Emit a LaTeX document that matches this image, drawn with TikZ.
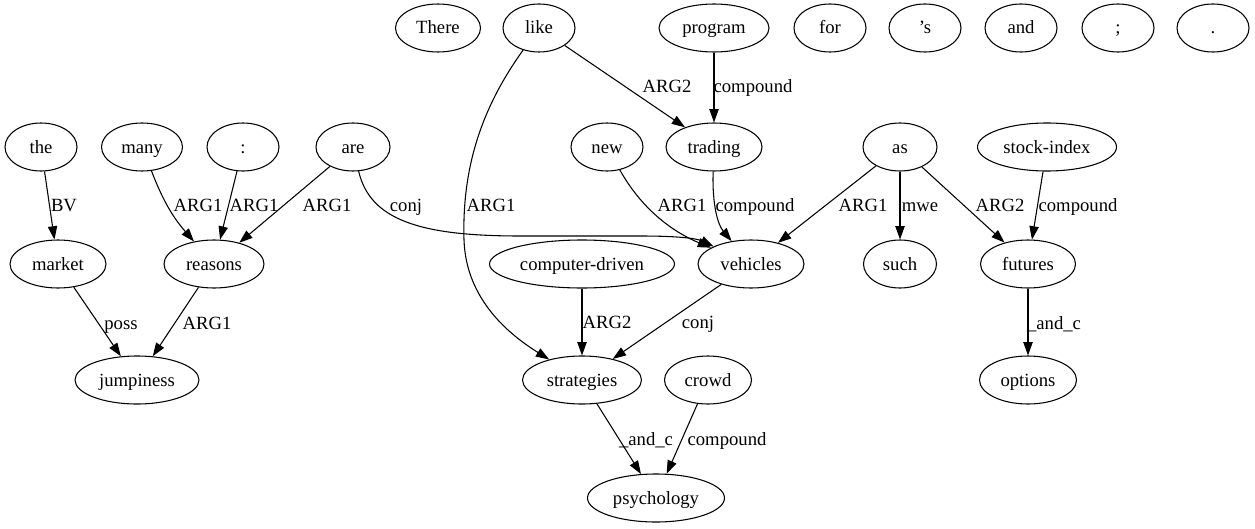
\documentclass[tikz,border=0pt]{standalone}
\usepackage{fontspec}
\setmainfont{Liberation Serif}
\usetikzlibrary{arrows.meta,shapes.geometric}

\begin{document}
\begin{tikzpicture}[x=0.75pt,y=-0.75pt,
  font=\fontsize{14}{16}\selectfont,
  tok/.style={ellipse,draw,line width=0.8pt,minimum width=#1*0.75pt,minimum height=36pt,inner xsep=1pt,inner ysep=0pt,text height=11pt,text depth=2pt},
  tok/.default=72,
  lbl/.style={inner sep=0pt,text height=11pt,text depth=2pt},
  edge/.style={-{Triangle[length=10pt,width=7pt]},line width=0.8pt}]
\useasboundingbox (0,0) rectangle (1255,528);
% top row
\node[tok=85](there) at (438,28){There};
\node[tok](like) at (539,28){like};
\node[tok=110](program) at (714,28){program};
\node[tok](for) at (830,28){for};
\node[tok](apos) at (925,28){’s};
\node[tok](andw) at (1021,28){and};
\node[tok](semi) at (1118,28){;};
\node[tok](dot) at (1213,28){.};
% second row
\node[tok](the) at (41,147){the};
\node[tok=81](many) at (142,147){many};
\node[tok](colon) at (243,147){:};
\node[tok=74](are) at (353,147){are};
\node[tok](new) at (607,147){new};
\node[tok=96](trading) at (714,147){trading};
\node[tok=74](as) at (900,147){as};
\node[tok=139](stock) at (1047,147){stock-index};
% third row
\node[tok=96](market) at (58,264){market};
\node[tok=100](reasons) at (214,264){reasons};
\node[tok=185](cdriven) at (582,264){computer-driven};
\node[tok=106](vehicles) at (751,264){vehicles};
\node[tok=73](such) at (900,264){such};
\node[tok=95](futures) at (1028,264){futures};
% fourth and fifth row
\node[tok=124](jump) at (137,380){jumpiness};
\node[tok=119](strat) at (582,380){strategies};
\node[tok=87](crowd) at (708,380){crowd};
\node[tok=97](options) at (1028,380){options};
\node[tok=137](psych) at (656,498){psychology};
\foreach \a/\b/\t/\x/\y in {the/market/BV/64/205,colon/reasons/ARG1/254/205,are/reasons/ARG1/327/205,
  market/jump/poss/121/323,reasons/jump/ARG1/207/323,like/trading/ARG2/667/87,program/trading/compound/753/87,
  as/vehicles/ARG1/863/205,as/such/mwe/920/205,as/futures/ARG2/1000/205,stock/futures/compound/1078/205,
  cdriven/strat/ARG2/607/322,vehicles/strat/conj/698/322,futures/options/\_and\_c/1054/323,
  strat/psych/\_and\_c/646/439,crowd/psych/compound/727/439}
  \draw[edge](\a)--(\b) node[lbl] at (\x,\y){\t};
\draw[edge](many) to[bend right=10] (reasons) node[lbl] at (198,205){ARG1};
\draw[edge](are) .. controls (370,220) and (420,236) .. (520,236) -- (640,236)
  .. controls (690,236) and (700,240) .. (vehicles) node[lbl] at (406,205){conj};
\draw[edge](like) .. controls (480,110) and (462,170) .. (464,240)
  .. controls (466,300) and (510,335) .. (strat) node[lbl] at (491,205){ARG1};
\draw[edge](new) .. controls (645,215) and (680,235) .. (vehicles) node[lbl] at (682,205){ARG1};
\draw[edge](trading) .. controls (712,205) and (718,225) .. (vehicles) node[lbl] at (755,205){compound};
\end{tikzpicture}
\end{document}
